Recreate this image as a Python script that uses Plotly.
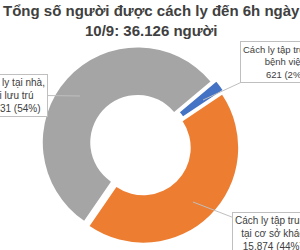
import plotly.graph_objects as go

# Data
categories = ["Cách ly tập trung tại bệnh viện", "Cách ly tập trung tại cơ sở khác", "Cách ly tại nhà, nơi lưu trú"]
values = [621, 15874, 19631]
colors = ["#4472C4", "#ED7D31", "#A5A5A5"]
label_texts = [
    "Cách ly tập trung tại<br>bệnh viện<br>621 (2%)",
    "Cách ly tập trung<br>tại cơ sở khác<br>15,874 (44%)",
    "Cách ly tại nhà,<br>nơi lưu trú<br>19,631 (54%)",
]
title_text = "<b>Tổng số người được cách ly đến 6h ngày<br>10/9: 36.126 người</b>"

W, H = 300, 250

fig = go.Figure(go.Pie(
    labels=categories,
    values=values,
    marker=dict(colors=colors, line=dict(width=0)),
    hole=0.5,
    sort=False,
    direction="clockwise",
    rotation=50,
    pull=[0.04, 0.04, 0.04],
    textinfo="none",
    hoverinfo="none",
    showlegend=False,
    domain=dict(x=[0.139, 0.798], y=[0.025, 0.815]),
))

# label callouts: (tip x px, tip y px, offset ax, offset ay, font size)
callouts = [
    (203, 100, 82, -38, 9.5),
    (193, 202, 80, 31, 10),
    (80, 96, -70, -1, 10),
]
for txt, (tx, ty, ax, ay, fs) in zip(label_texts, callouts):
    fig.add_annotation(
        x=tx / W, y=1 - ty / H, xref="paper", yref="paper",
        text=txt, showarrow=True, arrowhead=0, arrowwidth=1,
        arrowcolor="#BFBFBF", ax=ax, ay=ay, axref="pixel", ayref="pixel",
        font=dict(family="Liberation Sans, Arial", size=fs, color="#404040"),
        align="center", bordercolor="#BFBFBF", borderwidth=1, borderpad=2,
        bgcolor="white",
    )

fig.add_annotation(
    x=0.505, y=1.0, xref="paper", yref="paper", xanchor="center", yanchor="top",
    text=title_text, showarrow=False, align="center",
    font=dict(family="Liberation Sans, Arial", size=15, color="#404040"),
)

fig.update_layout(
    width=W, height=H,
    margin=dict(l=0, r=0, t=0, b=0),
    paper_bgcolor="white", plot_bgcolor="white",
)

fig.write_html("out.html")
